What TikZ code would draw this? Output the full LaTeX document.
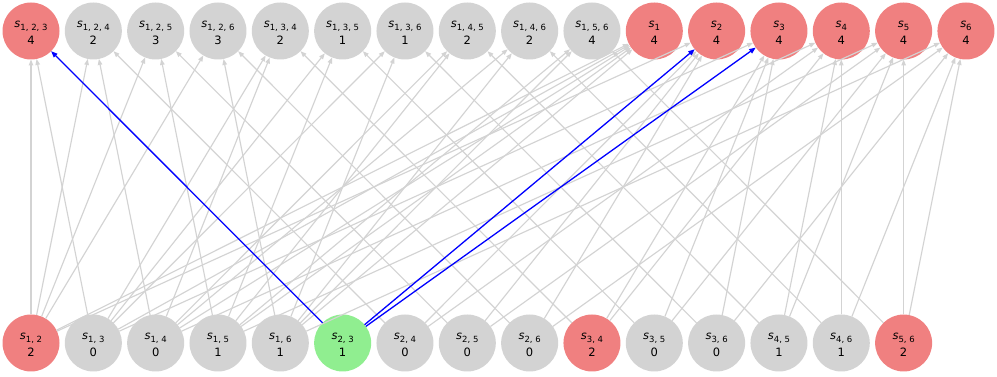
\documentclass[tikz,border=0pt]{standalone}
\usepackage{fontspec}
\setmainfont{DejaVu Sans}
\usetikzlibrary{arrows.meta}
\definecolor{egray}{HTML}{D3D3D3}
\definecolor{nred}{HTML}{F08080}
\definecolor{ngray}{HTML}{D3D3D3}
\definecolor{ngreen}{HTML}{90EE90}
\newcommand\lbl[2]{\rule{0pt}{10.6pt}{\itshape s}\raisebox{-3pt}{\fontsize{8.5}{8.5}\selectfont #1}\\#2}
\tikzset{
  vnode/.style={circle, minimum size=57pt, inner sep=0pt, outer sep=0pt, align=center,
    font=\fontsize{11.5}{17}\selectfont},
  rednode/.style={vnode, fill=nred},
  graynode/.style={vnode, fill=ngray},
  greennode/.style={vnode, fill=ngreen},
  edge/.style={draw=egray, line width=1.15pt, -{Triangle[length=6pt,width=4.5pt]}},
  hedge/.style={draw=blue, line width=1.3pt, -{Triangle[length=6.5pt,width=5pt]}}
}
\begin{document}
\begin{tikzpicture}[x=1pt,y=1pt]
\useasboundingbox (0,0) rectangle (997,377);
% top row
\foreach \i/\nm/\sub/\val/\st in {
  0/t123/{1, 2, 3}/4/rednode,
  1/t124/{1, 2, 4}/2/graynode,
  2/t125/{1, 2, 5}/3/graynode,
  3/t126/{1, 2, 6}/3/graynode,
  4/t134/{1, 3, 4}/2/graynode,
  5/t135/{1, 3, 5}/1/graynode,
  6/t136/{1, 3, 6}/1/graynode,
  7/t145/{1, 4, 5}/2/graynode,
  8/t146/{1, 4, 6}/2/graynode,
  9/t156/{1, 5, 6}/4/graynode,
  10/t1/1/4/rednode,
  11/t2/2/4/rednode,
  12/t3/3/4/rednode,
  13/t4/4/4/rednode,
  14/t5/5/4/rednode,
  15/t6/6/4/rednode}
  \node[\st] (\nm) at ({31+62.33*\i},346) {\lbl{\sub}{\val}};
% bottom row
\foreach \i/\nm/\sub/\val/\st in {
  0/b12/{1, 2}/2/rednode,
  1/b13/{1, 3}/0/graynode,
  2/b14/{1, 4}/0/graynode,
  3/b15/{1, 5}/1/graynode,
  4/b16/{1, 6}/1/graynode,
  5/b23/{2, 3}/1/greennode,
  6/b24/{2, 4}/0/graynode,
  7/b25/{2, 5}/0/graynode,
  8/b26/{2, 6}/0/graynode,
  9/b34/{3, 4}/2/rednode,
  10/b35/{3, 5}/0/graynode,
  11/b36/{3, 6}/0/graynode,
  12/b45/{4, 5}/1/graynode,
  13/b46/{4, 6}/1/graynode,
  14/b56/{5, 6}/2/rednode}
  \node[\st] (\nm) at ({31+62.33*\i},34) {\lbl{\sub}{\val}};
% gray edges
\foreach \s/\tl in {
  b12/{t123,t124,t125,t126,t1,t2},
  b13/{t123,t134,t135,t136,t1,t3},
  b14/{t124,t134,t145,t146,t1,t4},
  b15/{t125,t135,t145,t156,t1,t5},
  b16/{t126,t136,t146,t156,t1,t6},
  b24/{t124,t2,t4},
  b25/{t125,t2,t5},
  b26/{t126,t2,t6},
  b34/{t134,t3,t4},
  b35/{t135,t3,t5},
  b36/{t136,t3,t6},
  b45/{t145,t4,t5},
  b46/{t146,t4,t6},
  b56/{t156,t5,t6}}
  \foreach \t in \tl
    \draw[edge] (\s) -- (\t);
% highlighted edges
\draw[hedge] (b23) -- (t123);
\draw[hedge] (b23) -- (t2);
\draw[hedge] (b23) -- (t3);
\end{tikzpicture}
\end{document}
